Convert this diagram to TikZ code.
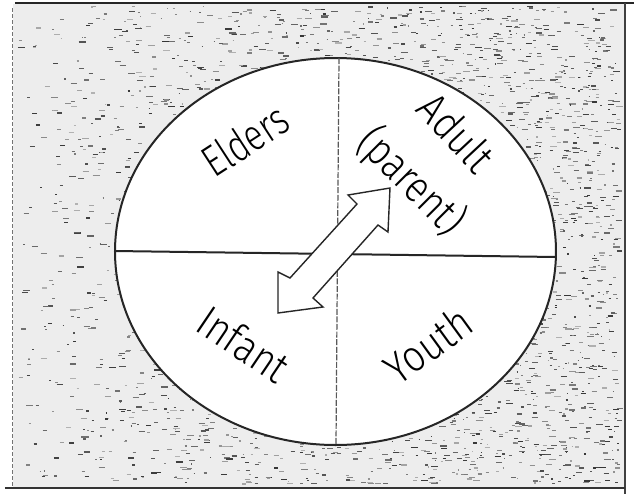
\documentclass[tikz,border=0pt]{standalone}
\usepackage{fontspec}
\setmainfont{Fira Sans}[UprightFont={* Light}]
\begin{document}
\begin{tikzpicture}[x=0.5pt,y=-0.5pt,
  lbl/.style={font=\fontsize{22}{22}\selectfont, inner sep=0pt, text=black},
  noise/.style={line width=0.6pt},
  rim/.style={line width=1pt, black!85},
  divider/.style={line width=0.6pt, black!65, dash pattern=on 3pt off 0.8pt},
  bigarrow/.style={fill=white, draw=black!85, line width=0.7pt, line join=miter}]
\useasboundingbox (0,0) rectangle (634,494);
% speckled background
\fill[gray!14] (13,4) rectangle (625,488);
\pgfmathsetseed{7}
\foreach \i in {1,...,3400}{
  \pgfmathsetmacro\px{14+604*(rnd^0.7)}
  \pgfmathsetmacro\py{6+478*rnd}
  \pgfmathsetmacro\ln{1+6*rnd}
  \pgfmathsetmacro\sh{int(30+50*rnd)}
  \draw[noise, black!\sh] (\px,\py) -- ++(\ln,0);
}
% frame
\draw[line width=1.2pt, black!85] (15,3) -- (634,3);
\draw[line width=0.5pt, black!55, dash pattern=on 2pt off 1pt] (13,8) -- (13,488);
\draw[line width=0.8pt, black!75] (625,3) -- (625,494);
\draw[line width=0.8pt, black!80] (5,488) -- (625,488);
% ellipse
\draw[rim, fill=white] (335.5,251.5) ellipse [x radius=220.5, y radius=193.5];
% dividers
\draw[rim] (115,251) -- (556,257);
\draw[divider] (339,58) -- (336,445);
% double arrow
\draw[bigarrow] (390,188) -- (348,195) -- (357,204) -- (290,278) -- (278,272)
  -- (278,313) -- (323,307) -- (313,298) -- (378,225) -- (388,232) -- cycle;
% labels
\node[lbl, rotate=33] (elders) at (245,140) {\scalebox{0.78}[1]{Elders}};
\node[lbl, rotate=-47] (adult) at (457,132) {\scalebox{0.86}[1]{Adult}};
\node[lbl, rotate=-45] (parent) at (411,182) {\scalebox{0.84}[1]{(parent)}};
\node[lbl, rotate=-34] (infant) at (244,344) {\scalebox{0.86}[1]{Infant}};
\node[lbl, rotate=36] (youth) at (428,345) {\scalebox{0.86}[1]{Youth}};
\end{tikzpicture}
\end{document}
